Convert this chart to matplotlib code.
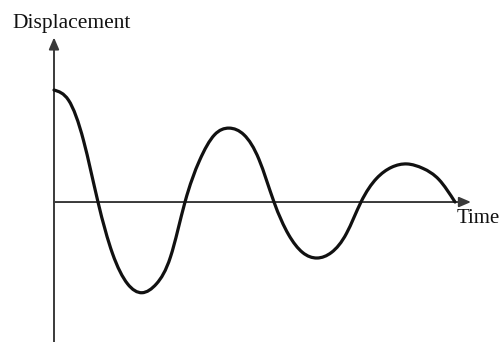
import numpy as np
import matplotlib
matplotlib.use("Agg")
import matplotlib.pyplot as plt
from matplotlib.path import Path
from matplotlib.patches import PathPatch

# Damped oscillation: time (s) and displacement (relative units)
time = [0.00, 0.29, 0.59, 0.88,
        1.17, 1.47, 1.76,
        2.05, 2.33, 2.62,
        2.91, 3.21, 3.50,
        3.80, 4.10, 4.40,
        4.69, 4.97, 5.26,
        5.55, 5.85, 6.14,
        6.45, 6.75, 7.06,
        7.38, 7.70, 8.02]
displacement = [1.00, 0.91, 0.55, 0.00,
                -0.46, -0.73, -0.81,
                -0.73, -0.49, 0.00,
                0.37, 0.60, 0.66,
                0.60, 0.38, 0.00,
                -0.29, -0.45, -0.50,
                -0.45, -0.28, 0.00,
                0.21, 0.31, 0.34,
                0.30, 0.20, 0.00]

x_label = "Time"
y_label = "Displacement"

fig = plt.figure(figsize=(5.0, 3.42), dpi=100)
ax = fig.add_axes([0, 0, 1, 1])
ax.set_xlim(-1.08, 8.92)
ax.set_ylim(-1.25, 1.804)
ax.axis("off")

axis_color = "#3a3a3a"
arrow_style = "-|>,head_length=0.7,head_width=0.3"
# vertical axis with arrow
ax.annotate("", xy=(0, 1.47), xytext=(0, -1.25),
            arrowprops=dict(arrowstyle=arrow_style, color=axis_color, lw=1.4,
                            shrinkA=0, shrinkB=0))
# horizontal axis with arrow
ax.annotate("", xy=(8.34, 0), xytext=(0, 0),
            arrowprops=dict(arrowstyle=arrow_style, color=axis_color, lw=1.4,
                            shrinkA=0, shrinkB=0))

# smooth curve: slopes of a natural cubic spline, drawn as cubic Bezier segments
t = np.asarray(time, dtype=float)
y = np.asarray(displacement, dtype=float)
n = len(t)
h = np.diff(t)
delta = np.diff(y) / h
A = np.zeros((n, n))
b = np.zeros(n)
A[0, 0], A[0, 1], b[0] = 2.0, 1.0, 3.0 * delta[0]
A[-1, -2], A[-1, -1], b[-1] = 1.0, 2.0, 3.0 * delta[-1]
for i in range(1, n - 1):
    A[i, i - 1] = h[i]
    A[i, i] = 2.0 * (h[i - 1] + h[i])
    A[i, i + 1] = h[i - 1]
    b[i] = 3.0 * (h[i] * delta[i - 1] + h[i - 1] * delta[i])
m = np.linalg.solve(A, b)

verts = [(t[0], y[0])]
codes = [Path.MOVETO]
for i in range(n - 1):
    verts += [(t[i] + h[i] / 3.0, y[i] + m[i] * h[i] / 3.0),
              (t[i + 1] - h[i] / 3.0, y[i + 1] - m[i + 1] * h[i] / 3.0),
              (t[i + 1], y[i + 1])]
    codes += [Path.CURVE4] * 3
curve = PathPatch(Path(verts, codes), facecolor="none", edgecolor="#111111",
                  lw=2.3, capstyle="round", joinstyle="round", zorder=3)
ax.add_patch(curve)

ax.text(-0.84, 1.59, y_label, family="Liberation Serif", fontsize=15.5,
        color="#111111", va="center", ha="left")
ax.text(8.05, -0.15, x_label, family="Liberation Serif", fontsize=15,
        color="#111111", va="center", ha="left")

fig.savefig("out.png", dpi=100)
